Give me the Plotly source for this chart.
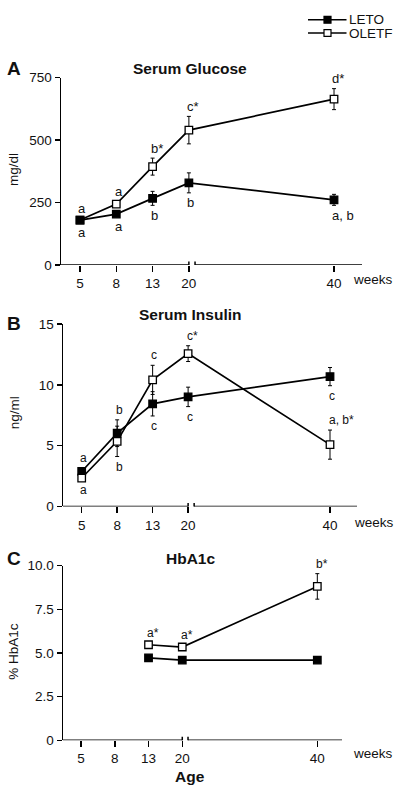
import plotly.graph_objects as go

# ---------------- data ----------------
WEEKS = [5, 8, 13, 20, 40]
WEEK_LABELS = ["5", "8", "13", "20", "40"]

glucose_weeks = [5, 8, 13, 20, 40]
glucose_leto = [180, 204, 267, 329, 261]
glucose_leto_err = [8, 8, 28, 40, 22]
glucose_oletf = [180, 244, 394, 540, 664]
glucose_oletf_err = [8, 10, 34, 55, 42]
glucose_leto_labels = ["a", "a", "b", "b", "a, b"]
glucose_leto_side = ["below"] * 5
glucose_oletf_labels = ["a", "a", "b*", "c*", "d*"]
glucose_oletf_side = ["above"] * 5

insulin_weeks = [5, 8, 13, 20, 40]
insulin_leto = [2.88, 6.03, 8.45, 9.02, 10.69]
insulin_leto_err = [0.3, 1.1, 1.0, 0.8, 0.75]
insulin_oletf = [2.34, 5.36, 10.42, 12.58, 5.09]
insulin_oletf_err = [0.2, 1.25, 1.2, 0.65, 1.2]
insulin_leto_labels = ["a", "b", "c", "c", "c"]
insulin_leto_side = ["above", "above", "below", "below", "below"]
insulin_oletf_labels = ["a", "b", "c", "c*", "a, b*"]
insulin_oletf_side = ["below", "below", "above", "above", "above"]

hba_weeks = [13, 20, 40]
hba_leto = [4.72, 4.59, 4.59]
hba_leto_err = [0.08, 0.05, 0.05]
hba_oletf = [5.47, 5.34, 8.81]
hba_oletf_err = [0.1, 0.1, 0.73]
hba_oletf_labels = ["a*", "a*", "b*"]
hba_oletf_side = ["above"] * 3

# broken axis: weeks -> axis position
AXIS_POS = {5: 0, 8: 1, 13: 2, 20: 3, 40: 7}
BREAK_GAP = 0.17

FONT = "Liberation Sans, Arial, Helvetica, sans-serif"
W, H = 400, 800


def px(x):
    return x / W


def py(y):
    return 1 - y / H


# panel layout in pixels
panels = [
    dict(xdom=(61, 362), ydom=(72, 263), xr=(-0.524, 7.771), yr=(0, 750),
         yt=[0, 250, 500, 750], ytt=["0", "250", "500", "750"]),
    dict(xdom=(63, 357), ydom=(323.3, 509), xr=(-0.527, 7.761), yr=(0, 15),
         yt=[0, 5, 10, 15], ytt=["0", "5", "10", "15"]),
    dict(xdom=(63, 342), ydom=(569.3, 747.3), xr=(-0.533, 7.731), yr=(0, 10),
         yt=[0, 2.5, 5, 7.5, 10], ytt=["0", "2.5", "5.0", "7.5", "10.0"]),
]

fig = go.Figure()
annotations = []
shapes = []


def add_series(i, weeks, vals, errs, filled, labels=None, sides=None, fsize=12):
    xa = "x" if i == 0 else f"x{i+1}"
    ya = "y" if i == 0 else f"y{i+1}"
    xs = [AXIS_POS[w] for w in weeks]
    fig.add_trace(go.Scatter(
        x=xs, y=vals, xaxis=xa, yaxis=ya, mode="lines+markers",
        line=dict(color="black", width=1.7),
        marker=dict(symbol="square", size=7.5,
                    color="black" if filled else "white",
                    line=dict(color="black", width=1.3)),
        error_y=dict(type="data", array=errs, visible=True,
                     color="black", thickness=1, width=2),
        cliponaxis=False, showlegend=False, hoverinfo="skip"))
    if labels:
        for x, v, e, lab, s in zip(xs, vals, errs, labels, sides):
            up = s == "above"
            annotations.append(dict(
                x=x, y=v + e if up else v - e, xref=xa, yref=ya,
                text=lab, showarrow=False, xanchor="left", yanchor="middle",
                xshift=-fsize * 0.278, yshift=10 if up else -10,
                font=dict(family=FONT, size=fsize, color="#111")))


# Panel A
add_series(0, glucose_weeks, glucose_oletf, glucose_oletf_err, False,
           glucose_oletf_labels, glucose_oletf_side, 13)
add_series(0, glucose_weeks, glucose_leto, glucose_leto_err, True,
           glucose_leto_labels, glucose_leto_side, 13)
# Panel B
add_series(1, insulin_weeks, insulin_leto, insulin_leto_err, True,
           insulin_leto_labels, insulin_leto_side, 12)
add_series(1, insulin_weeks, insulin_oletf, insulin_oletf_err, False,
           insulin_oletf_labels, insulin_oletf_side, 12)
# Panel C
add_series(2, hba_weeks, hba_leto, hba_leto_err, True)
add_series(2, hba_weeks, hba_oletf, hba_oletf_err, False,
           hba_oletf_labels, hba_oletf_side, 12)

layout = dict(width=W, height=H, margin=dict(l=0, r=0, t=0, b=0),
              paper_bgcolor="white", plot_bgcolor="white", showlegend=False,
              font=dict(family=FONT, color="#111"))

tickvals = [AXIS_POS[w] for w in WEEKS]
for i, p in enumerate(panels):
    sx = "" if i == 0 else str(i + 1)
    layout[f"xaxis{sx}"] = dict(
        domain=[px(p["xdom"][0]), px(p["xdom"][1])], range=list(p["xr"]),
        anchor=f"y{sx}", showline=False, showgrid=False, zeroline=False,
        ticks="outside", ticklen=6, tickwidth=1.5, tickcolor="black",
        tickvals=tickvals, ticktext=WEEK_LABELS,
        tickfont=dict(family=FONT, size=13.5, color="#111"), fixedrange=True)
    layout[f"yaxis{sx}"] = dict(
        domain=[py(p["ydom"][1]), py(p["ydom"][0])], range=list(p["yr"]),
        anchor=f"x{sx}", showline=True, linewidth=1.5, linecolor="black",
        showgrid=False, zeroline=False, ticks="outside", ticklen=5,
        tickwidth=1.5, tickcolor="black", tickvals=p["yt"], ticktext=p["ytt"],
        tickfont=dict(family=FONT, size=13.5, color="#111"), fixedrange=True)
    xa = "x" + sx
    ya = "y" + sx
    brk = AXIS_POS[20]
    # x axis line with break
    shapes.append(dict(type="line", xref=xa, yref=ya, x0=p["xr"][0], x1=brk,
                       y0=0, y1=0, line=dict(color="black", width=1.5)))
    shapes.append(dict(type="line", xref=xa, yref=ya, x0=brk + BREAK_GAP,
                       x1=p["xr"][1], y0=0, y1=0,
                       line=dict(color="black", width=1.5)))
    for bx in (brk, brk + BREAK_GAP):
        shapes.append(dict(type="line", xref=xa, yref=ya, x0=bx, x1=bx,
                           ysizemode="pixel", yanchor=0, y0=-3.5, y1=3.5,
                           line=dict(color="black", width=1.5)))


def text(x, y, s, size=13, bold=False, angle=0, xanchor="center"):
    annotations.append(dict(
        x=px(x), y=py(y), xref="paper", yref="paper", text=f"<b>{s}</b>" if bold else s,
        showarrow=False, xanchor=xanchor, yanchor="middle", textangle=angle,
        font=dict(family=FONT, size=size, color="#111")))


text(14, 63, "A", 19, True)
text(190, 63, "Serum Glucose", 15.5, True)
text(14, 323, "B", 19, True)
text(190, 313, "Serum Insulin", 15.5, True)
text(14, 562, "C", 19, True)
text(190, 562, "HbA1c", 15.5, True)
text(14, 166, "mg/dl", 13.5, angle=-90)
text(14, 414, "ng/ml", 13.5, angle=-90)
text(14, 657, "% HbA1c", 13.5, angle=-90)
text(373, 278, "weeks", 13.5)
text(373.5, 525, "weeks", 13.5)
text(373, 761, "weeks", 13.5)
text(190, 784, "Age", 15.5, True)

# custom legend
legend_items = [("LETO", True, 13), ("OLETF", False, 26.5)]
for name, filled, yy in legend_items:
    shapes.append(dict(type="line", xref="paper", yref="paper",
                       x0=px(308), x1=px(346.5), y0=py(yy), y1=py(yy),
                       line=dict(color="black", width=1.5)))
    shapes.append(dict(type="rect", xref="paper", yref="paper",
                       x0=px(324), x1=px(331), y0=py(yy - 3.5), y1=py(yy + 3.5),
                       fillcolor="black" if filled else "white",
                       line=dict(color="black", width=1.2)))
    text(347, yy, name, 13.5, xanchor="left")

layout["annotations"] = annotations
layout["shapes"] = shapes
fig.update_layout(**layout)
fig.write_html(
    "out.html",
    config={"displayModeBar": False, "staticPlot": True},
    post_script="document.body.style.margin='0';document.body.style.padding='0';"
                "document.documentElement.style.overflow='hidden';",
)
